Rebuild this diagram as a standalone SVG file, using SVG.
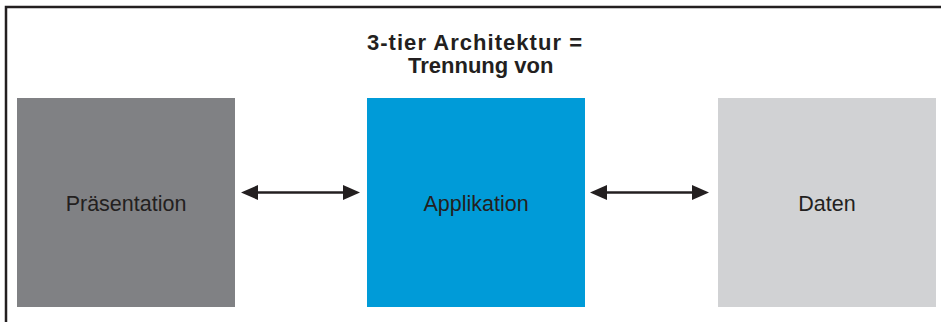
<svg xmlns="http://www.w3.org/2000/svg" width="941" height="322" viewBox="0 0 941 322">
<style>
.frame{fill:none;stroke:#231f20;stroke-width:2.5}
.lbl{font-family:"Liberation Sans",Arial,sans-serif;font-size:21.5px;fill:#231f20;text-anchor:middle}
.title{font-family:"Liberation Sans",Arial,sans-serif;font-size:22px;font-weight:bold;fill:#231f20}
.conn{stroke:#231f20;stroke-width:2.5;fill:none}
.head{fill:#231f20}
</style>
<rect width="941" height="322" fill="#ffffff"/>
<path class="frame" d="M6,322 V7 H941"/>
<g id="title">
<text class="title" x="367" y="50" textLength="215" lengthAdjust="spacing">3-tier Architektur =</text>
<text class="title" x="408" y="73">Trennung von</text>
</g>
<g id="praesentation">
<rect x="17" y="98" width="218" height="209" fill="#808184"/>
<text class="lbl" x="126" y="211">Präsentation</text>
</g>
<g id="applikation">
<rect x="367" y="98" width="218" height="209" fill="#009bd8"/>
<text class="lbl" x="476" y="211">Applikation</text>
</g>
<g id="daten">
<rect x="718" y="98" width="218" height="209" fill="#d1d2d4"/>
<text class="lbl" x="827" y="211">Daten</text>
</g>
<g id="connectors">
<line class="conn" x1="254" y1="192.5" x2="347" y2="192.5"/>
<polygon class="head" points="241,192.5 258,185 258,200"/>
<polygon class="head" points="360,192.5 343,185 343,200"/>
<line class="conn" x1="603" y1="192.5" x2="696" y2="192.5"/>
<polygon class="head" points="590,192.5 607,185 607,200"/>
<polygon class="head" points="709,192.5 692,185 692,200"/>
</g>
</svg>
